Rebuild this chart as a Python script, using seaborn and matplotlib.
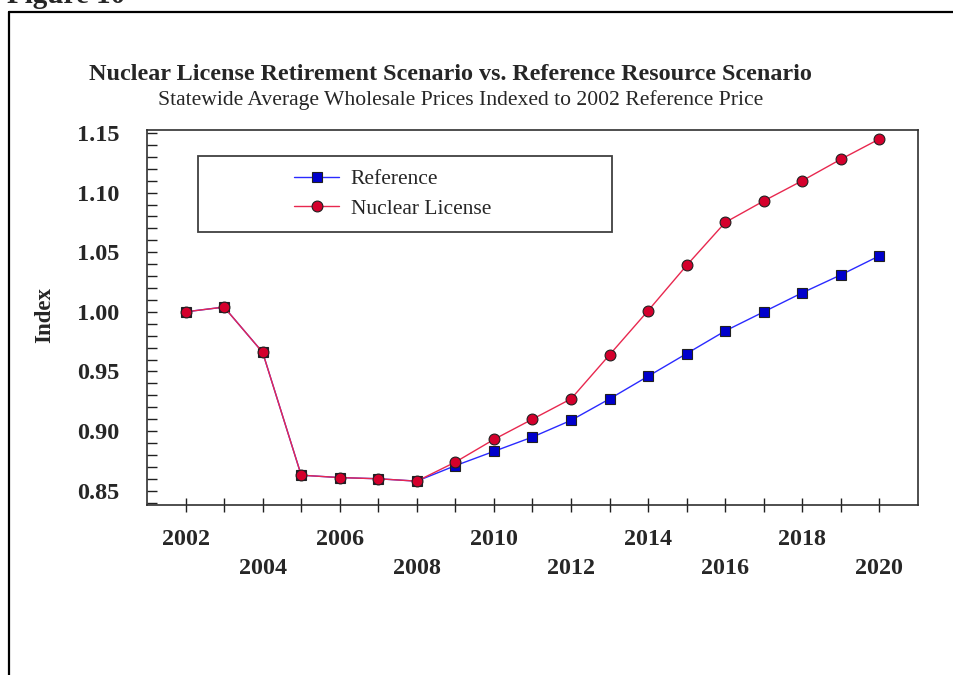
import numpy as np
import pandas as pd
import matplotlib.pyplot as plt
import seaborn as sns
from matplotlib.patches import Rectangle
from matplotlib.lines import Line2D
from matplotlib.ticker import MultipleLocator, FormatStrFormatter

# Data (index, 2002 = 1.00)
years = list(range(2002, 2021))
reference = [1.000, 1.004, 0.966, 0.863, 0.861, 0.860, 0.858, 0.871, 0.883, 0.895,
             0.909, 0.927, 0.946, 0.965, 0.984, 1.000, 1.016, 1.031, 1.047]
nuclear = [1.000, 1.004, 0.966, 0.863, 0.861, 0.860, 0.858, 0.874, 0.893, 0.910,
           0.927, 0.964, 1.001, 1.039, 1.075, 1.093, 1.110, 1.128, 1.145]
series_names = ["Reference", "Nuclear License"]
y_ticks = [0.85, 0.90, 0.95, 1.00, 1.05, 1.10, 1.15]

sns.set_style("white")
plt.rcParams['font.family'] = ['Liberation Serif', 'DejaVu Serif']

W, H = 954, 675
fig = plt.figure(figsize=(W / 100, H / 100), dpi=100)

# outer page frame (left and top edges visible)
fig.add_artist(Line2D([9 / W, 9 / W], [0, 1 - 12 / H], transform=fig.transFigure, color='black', lw=1.6))
fig.add_artist(Line2D([9 / W, 1], [1 - 12 / H, 1 - 12 / H], transform=fig.transFigure, color='black', lw=1.6))
fig.text(7 / W, 1 - 3 / H, "Figure 10", fontsize=21, fontweight='bold', va='baseline', ha='left')

ax = fig.add_axes([147 / W, 1 - 505 / H, (918 - 147) / W, (505 - 130) / H])

sns.lineplot(x=years, y=reference, ax=ax, color='#2a2aff', lw=1.0, marker='s', markersize=7.2,
             markerfacecolor='#0000cc', markeredgecolor='#202020', markeredgewidth=0.8,
             label=series_names[0], legend=False)
sns.lineplot(x=years, y=nuclear, ax=ax, color='#e8284f', lw=1.0, marker='o', markersize=7.8,
             markerfacecolor='#d4002c', markeredgecolor='#202020', markeredgewidth=0.8,
             label=series_names[1], legend=False)

ax.set_xlim(2001, 2021)
ax.set_ylim(0.838, 1.1525)

# y axis: labelled majors every 0.05, minor ticks every 0.01, all pointing inward
ax.set_yticks(y_ticks)
ax.yaxis.set_major_formatter(FormatStrFormatter('%.2f'))
ax.yaxis.set_minor_locator(MultipleLocator(0.01))
ax.tick_params(axis='y', which='both', direction='in', length=7, width=1.0, color='#202020',
               left=True, right=False, pad=20, labelsize=17.5)
for lab in ax.get_yticklabels():
    lab.set_fontweight('bold')

# x axis: a tick every year, even years labelled on two staggered rows
xlabels = []
for yr in years:
    if yr % 2:
        xlabels.append("")
    elif (yr - 2002) % 4 == 0:
        xlabels.append(f"{yr}\n")
    else:
        xlabels.append(f"\n{yr}")
ax.set_xticks(years)
ax.set_xticklabels(xlabels, fontsize=17.3, fontweight='bold', linespacing=1.45)
ax.tick_params(axis='x', which='major', direction='inout', length=10, width=1.0, color='#202020',
               bottom=True, top=False, pad=12.5)

for sp in ax.spines.values():
    sp.set_visible(True)
    sp.set_color('#303030')
    sp.set_linewidth(1.2)

ax.set_xlabel("")
ax.set_ylabel("")
fig.text(44.5 / W, 1 - 315 / H, "Index", rotation=90, fontsize=16.5, fontweight='bold',
         ha='center', va='center')

# titles
fig.text(450.5 / W, 1 - 80 / H, "Nuclear License Retirement Scenario vs. Reference Resource Scenario",
         fontsize=17.4, fontweight='bold', ha='center', va='baseline')
fig.text(460.5 / W, 1 - 105.5 / H, "Statewide Average Wholesale Prices Indexed to 2002 Reference Price",
         fontsize=15.6, ha='center', va='baseline')

# legend box and entries
ax_w, ax_h = 918 - 147, 505 - 130
ax.add_patch(Rectangle(((198 - 147) / ax_w, (505 - 232) / ax_h), (612 - 198) / ax_w, (232 - 156) / ax_h,
                       transform=ax.transAxes, fill=False, ec='#404040', lw=1.3, zorder=5))
ax.legend(loc='center left', bbox_to_anchor=((294 - 147) / ax_w, (505 - 194) / ax_h),
          frameon=False, fontsize=15.5, handlelength=45 / 21.5, handletextpad=11.5 / 21.5,
          labelspacing=0.42, borderpad=0, borderaxespad=0)

plt.savefig("out.png", dpi=100)
